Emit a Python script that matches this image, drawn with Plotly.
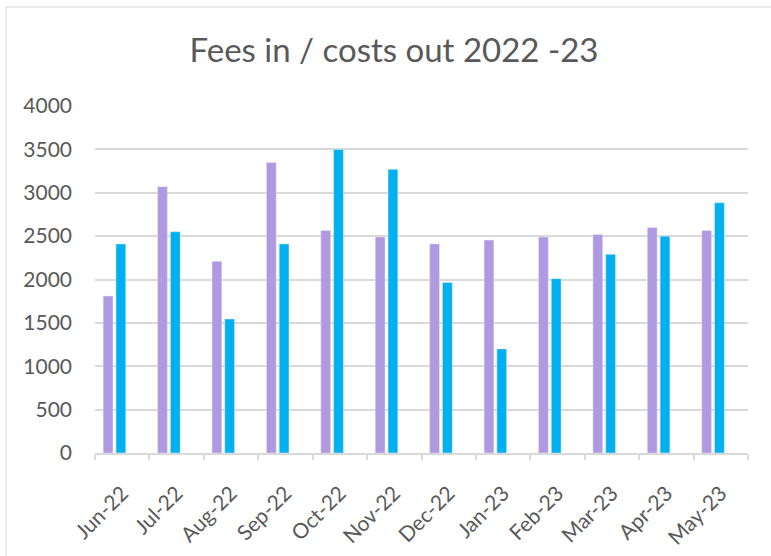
import plotly.graph_objects as go

months = ["Jun-22", "Jul-22", "Aug-22", "Sep-22", "Oct-22", "Nov-22",
          "Dec-22", "Jan-23", "Feb-23", "Mar-23", "Apr-23", "May-23"]
fees_in = [1810, 3070, 2210, 3350, 2565, 2490, 2410, 2455, 2490, 2520, 2600, 2565]
costs_out = [2410, 2550, 1545, 2410, 3500, 3270, 1965, 1200, 2010, 2290, 2500, 2885]

W, H = 771, 556
L, R, T, B = 95, 23, 106, 103
pw, ph = W - L - R, H - T - B

fig = go.Figure()
fig.add_trace(go.Bar(x=months, y=fees_in, name="Fees in", marker_color="#AF99E0",
                     width=0.18, offset=-0.35))
fig.add_trace(go.Bar(x=months, y=costs_out, name="Costs out", marker_color="#00B0F0",
                     width=0.18, offset=-0.115))

def px2paper_x(px):
    return (px - L) / pw

def px2paper_y(py):
    return (H - B - py) / ph

fig.add_shape(type="rect", xref="paper", yref="paper",
              x0=px2paper_x(6), x1=px2paper_x(780), y0=px2paper_y(565), y1=px2paper_y(7),
              line=dict(color="#D9D9D9", width=1), fillcolor="rgba(0,0,0,0)", layer="below")

fig.update_layout(
    width=W, height=H,
    margin=dict(l=L, r=R, t=T, b=B, autoexpand=False),
    paper_bgcolor="white", plot_bgcolor="white",
    showlegend=False,
    font=dict(family="Lato", color="#595959"),
    title=dict(text="Fees in / costs out 2022 -23", x=(188 + 600) / 2 / W, xref="container",
               xanchor="center", y=1 - 50 / H, yanchor="middle", yref="container",
               font=dict(size=33, color="#595959", family="Lato")),
    xaxis=dict(type="category", showgrid=False, showline=True, linecolor="#D9D9D9", linewidth=1.5,
               ticks="outside", tickson="boundaries", ticklen=5, tickcolor="#D9D9D9", tickwidth=1.5,
               tickangle=-45, ticklabelstandoff=18, tickfont=dict(size=21, color="#595959")),
    yaxis=dict(range=[0, 4000], dtick=500, showgrid=True, gridcolor="#D9D9D9", gridwidth=1.5,
               zeroline=False, showline=False, ticks="", ticklabelstandoff=22,
               tickfont=dict(size=21, color="#595959")),
)

fig.write_html("out.html", config={"displayModeBar": False},
               post_script="document.body.style.margin='0';")
